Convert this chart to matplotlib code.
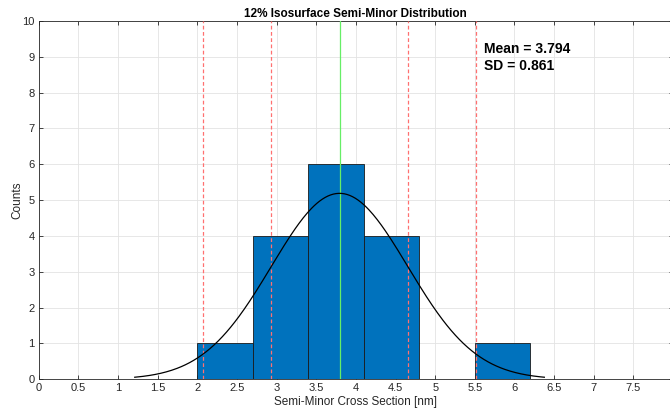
import numpy as np
import matplotlib
matplotlib.use("Agg")
import matplotlib.pyplot as plt

plt.rcParams['font.family'] = ['Liberation Sans', 'DejaVu Sans']

# histogram of semi-minor cross sections
bin_edges = [2.0, 2.7, 3.4, 4.1, 4.8, 5.5, 6.2]
counts = [1, 4, 6, 4, 0, 1]
mean_val = 3.794
sd_val = 0.861

x_ticks = [0, 0.5, 1, 1.5, 2, 2.5, 3, 3.5, 4, 4.5, 5, 5.5, 6, 6.5, 7, 7.5]
x_ticklabels = ['0', '0.5', '1', '1.5', '2', '2.5', '3', '3.5', '4', '4.5',
                '5', '5.5', '6', '6.5', '7', '7.5']
y_ticks = list(range(0, 11))

fig = plt.figure(figsize=(6.7, 4.13), dpi=100)
ax = fig.add_axes([0.0578, 0.0816, 0.9467, 0.8676])

widths = np.diff(bin_edges)
ax.bar(bin_edges[:-1], counts, width=widths, align='edge',
       color='#0072BD', edgecolor='#1a1a1a', linewidth=0.6, zorder=2)

# fitted normal curve, scaled to counts
n_total = sum(counts)
bw = widths[0]
xs = np.linspace(mean_val - 3 * sd_val, mean_val + 3 * sd_val, 300)
ys = n_total * bw / (sd_val * np.sqrt(2 * np.pi)) * np.exp(-0.5 * ((xs - mean_val) / sd_val) ** 2)
ax.plot(xs, ys, color='black', linewidth=0.9, zorder=4)

# mean and +/- SD lines
ax.axvline(mean_val, color='#66ee66', linewidth=0.9, zorder=3)
for k in (-2, -1, 1, 2):
    ax.axvline(mean_val + k * sd_val, color='#ff7070', linestyle=(0, (3, 2)),
               linewidth=0.9, zorder=3)

ax.text(5.62, 9.22, 'Mean = %.3f' % mean_val, fontsize=10, fontweight='bold',
        va='center', ha='left')
ax.text(5.62, 8.74, 'SD = %.3f' % sd_val, fontsize=10, fontweight='bold',
        va='center', ha='left')

ax.set_xlim(0, 8)
ax.set_ylim(0, 10)
ax.set_xticks(x_ticks)
ax.set_xticklabels(x_ticklabels)
ax.set_yticks(y_ticks)
ax.grid(True, color='#e3e3e3', linewidth=0.6, zorder=0)
ax.set_axisbelow(True)
ax.tick_params(direction='in', length=3, width=0.6, colors='#262626',
               labelsize=8, top=True, right=True, pad=3)
for s in ax.spines.values():
    s.set_color('#262626')
    s.set_linewidth(0.6)

ax.set_title('12% Isosurface Semi-Minor Distribution', fontsize=8.5,
             fontweight='bold', pad=3)
ax.set_xlabel('Semi-Minor Cross Section [nm]', fontsize=8.5, color='#262626', labelpad=2)
ax.set_ylabel('Counts', fontsize=8.5, color='#262626', labelpad=-1)

fig.savefig('out.png', dpi=100)
